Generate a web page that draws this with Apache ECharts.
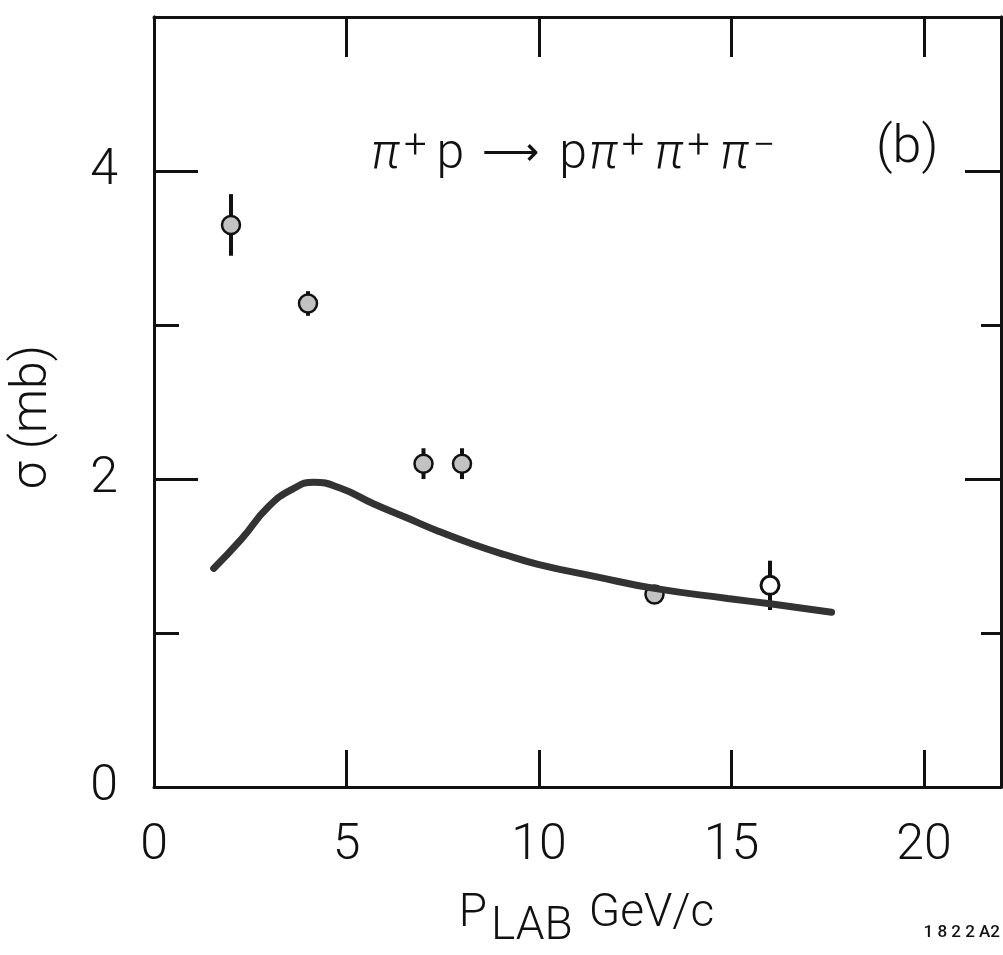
<!DOCTYPE html>
<html>
<head>
<meta charset="utf-8">
<style>
  html, body { margin: 0; padding: 0; background: #fff; }
  #chart { width: 1003px; height: 955px; }
</style>
<script src="https://cdn.jsdelivr.net/npm/echarts@6/dist/echarts.min.js"></script>
</head>
<body>
<div id="chart"></div>
<script>
// ---- data ----
const xTickValues = [5, 10, 15, 20];
const xLabelValues = [0, 5, 10, 15, 20];
const yMajorTicks = [2, 4];
const yMinorTicks = [1, 3];
const yLabelValues = [0, 2, 4];

// measured cross sections (filled circles)
const pLab = [2.0, 4.0, 7.0, 8.0, 13.0];
const sigma = [3.65, 3.14, 2.10, 2.10, 1.25];
const sigmaErr = [0.20, 0.08, 0.10, 0.10, 0.05];

// open circle
const pLabOpen = [16.0];
const sigmaOpen = [1.31];
const sigmaOpenErr = [0.16];

// model curve
const curveX = [1.55, 2.27, 2.97, 3.6, 4.15, 4.85, 5.7, 6.55, 7.4, 8.25, 9.1, 10.0, 11.5, 13.0, 14.9, 16.0, 17.6];
const curveY = [1.42, 1.61, 1.82, 1.935, 1.98, 1.94, 1.84, 1.75, 1.66, 1.58, 1.51, 1.445, 1.365, 1.29, 1.225, 1.19, 1.135];

const FONT = 'Roboto';
const INK = '#111';

const pts = pLab.map((x, i) => [x, sigma[i], sigmaErr[i]]);
const ptsOpen = pLabOpen.map((x, i) => [x, sigmaOpen[i], sigmaOpenErr[i]]);
const curve = curveX.map((x, i) => [x, curveY[i]]);

function errRender(params, api) {
  const x = api.value(0), y = api.value(1), e = api.value(2);
  const top = api.coord([x, y + e]);
  const bot = api.coord([x, y - e]);
  return {
    type: 'line',
    shape: { x1: top[0], y1: top[1], x2: bot[0], y2: bot[1] },
    style: { stroke: INK, lineWidth: 4 }
  };
}

function yAxisDef(position, ticks, len, labels) {
  return {
    type: 'value', position: position, min: 0, max: 5,
    axisLine: { show: true, onZero: false, lineStyle: { color: INK, width: 3 } },
    axisTick: { show: true, inside: true, length: len, customValues: ticks, lineStyle: { color: INK, width: 3 } },
    axisLabel: labels ? { show: true, customValues: yLabelValues, margin: 36, color: INK, fontSize: 50, fontFamily: FONT, fontWeight: 300 } : { show: false },
    splitLine: { show: false }
  };
}

const chart = echarts.init(document.getElementById('chart'), null, { renderer: 'canvas' });
chart.setOption({
  backgroundColor: '#fff',
  animation: false,
  grid: { left: 153, right: 2, top: 17, bottom: 163, containLabel: false },
  xAxis: [
    {
      type: 'value', position: 'bottom', min: 0, max: 22,
      axisLine: { show: true, onZero: false, lineStyle: { color: INK, width: 3 } },
      axisTick: { show: true, inside: true, length: 37, customValues: xTickValues, lineStyle: { color: INK, width: 3 } },
      axisLabel: { show: true, customValues: xLabelValues, margin: 34, color: INK, fontSize: 50, fontFamily: FONT, fontWeight: 300 },
      splitLine: { show: false },
      name: '{p|P}{sub|LAB}{g|GeV/c}',
      nameLocation: 'middle',
      nameGap: 98,
      nameTextStyle: {
        padding: [0, 0, 0, 18],
        rich: {
          p: { fontSize: 46, fontFamily: FONT, fontWeight: 300, color: INK, lineHeight: 44, verticalAlign: 'top', padding: [0, 4, 0, 0] },
          sub: { fontSize: 46, fontFamily: FONT, fontWeight: 300, color: INK, lineHeight: 44, padding: [28, 16, 0, 0] },
          g: { fontSize: 46, fontFamily: FONT, fontWeight: 300, color: INK, lineHeight: 44, verticalAlign: 'top' }
        }
      }
    },
    {
      type: 'value', position: 'top', min: 0, max: 22,
      axisLine: { show: true, onZero: false, lineStyle: { color: INK, width: 3 } },
      axisTick: { show: true, inside: true, length: 40, customValues: xTickValues, lineStyle: { color: INK, width: 3 } },
      axisLabel: { show: false },
      splitLine: { show: false }
    }
  ],
  yAxis: [
    Object.assign(yAxisDef('left', yMajorTicks, 44, true), {
      name: 'σ (mb)', nameLocation: 'middle', nameGap: 96, nameRotate: 90,
      nameTextStyle: { fontSize: 50, fontFamily: FONT, fontWeight: 300, color: INK, padding: [0, 30, 0, 0] }
    }),
    yAxisDef('left', yMinorTicks, 25, false),
    yAxisDef('right', yMajorTicks, 36, false),
    yAxisDef('right', yMinorTicks, 20, false)
  ],
  graphic: [
    {
      type: 'text', left: 371, top: 128, z: 100,
      style: {
        text: '{pi|π}{sup|+}{m|p}{ar|⟶}{m|p}{pi|π}{sup|+}{pi|π}{sup|+}{pi|π}{sup|−}',
        rich: {
          pi: { fontSize: 50, fontFamily: FONT, fontStyle: 'italic', fontWeight: 300, fill: INK, lineHeight: 54, padding: [0, 4, 0, 0] },
          sup: { fontSize: 40, fontFamily: FONT, fontWeight: 300, fill: INK, lineHeight: 40, verticalAlign: 'top', padding: [0, 10, 14, 0] },
          m: { fontSize: 50, fontFamily: FONT, fontWeight: 300, fill: INK, lineHeight: 54, padding: [0, 2, 0, 0] },
          ar: { fontSize: 40, fontFamily: 'DejaVu Sans', fontWeight: 300, fill: INK, lineHeight: 54, padding: [0, 20, 0, 16] }
        }
      }
    },
    {
      type: 'text', left: 876, top: 123, z: 100,
      style: { text: '(b)', fontSize: 52, fontFamily: FONT, fontWeight: 300, fill: INK }
    },
    {
      type: 'text', right: 3, top: 924, z: 100,
      style: { text: '1 8 2 2 A2', fontSize: 17, fontFamily: FONT, fontWeight: 500, fill: INK }
    }
  ],
  series: [
    {
      type: 'custom', name: 'err', xAxisIndex: 0, yAxisIndex: 0,
      renderItem: errRender, data: pts, z: 2, silent: true
    },
    {
      type: 'custom', name: 'errOpen', xAxisIndex: 0, yAxisIndex: 0,
      renderItem: errRender, data: ptsOpen, z: 2, silent: true
    },
    {
      type: 'scatter', name: 'data', xAxisIndex: 0, yAxisIndex: 0,
      data: pts.map(p => [p[0], p[1]]), symbol: 'circle', symbolSize: 18, z: 3,
      itemStyle: { color: '#c2c2c2', borderColor: INK, borderWidth: 2.5, opacity: 1 }
    },
    {
      type: 'scatter', name: 'open', xAxisIndex: 0, yAxisIndex: 0,
      data: ptsOpen.map(p => [p[0], p[1]]), symbol: 'circle', symbolSize: 18, z: 3,
      itemStyle: { color: '#fff', borderColor: INK, borderWidth: 3, opacity: 1 }
    },
    {
      type: 'line', name: 'model', xAxisIndex: 0, yAxisIndex: 0,
      data: curve, smooth: 0.5, showSymbol: false, symbol: 'none', z: 4,
      lineStyle: { color: '#333', width: 7, cap: 'round' }
    }
  ]
});
</script>
</body>
</html>
